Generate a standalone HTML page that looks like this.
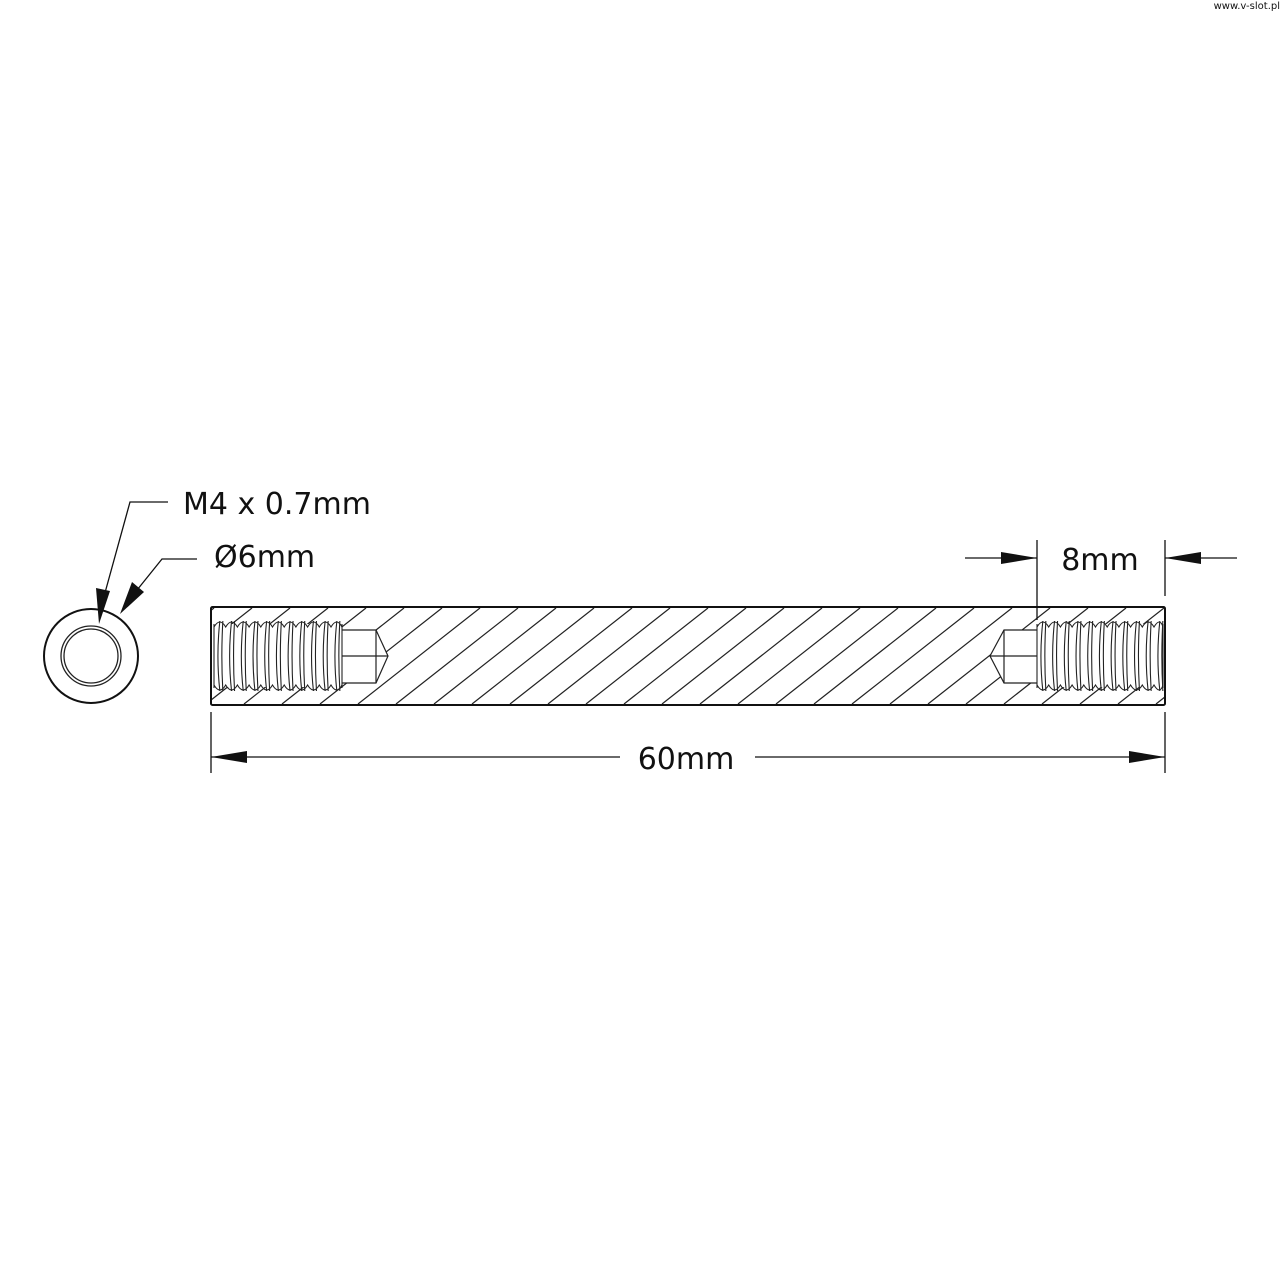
<!DOCTYPE html>
<html><head><meta charset="utf-8"><style>
html,body{margin:0;padding:0;background:#fff;}
svg{display:block;}
text{font-family:"DejaVu Sans","Liberation Sans",sans-serif;fill:#111;}
</style></head><body>
<svg id="s" width="1280" height="1280" viewBox="0 0 1280 1280" xmlns="http://www.w3.org/2000/svg">
<defs>
<mask id="m">
<rect x="211" y="607" width="954" height="98" fill="#fff"/>
<rect x="212" y="624" width="130" height="63" fill="#000"/>
<polygon points="342,630 376,630 388,656 376,683 342,683" fill="#000"/>
<rect x="1037" y="624" width="127" height="63" fill="#000"/>
<polygon points="1037,630 1004,630 990,656 1004,683 1037,683" fill="#000"/>
</mask>
</defs>
<text x="1280" y="9" font-size="10" text-anchor="end" fill="#333">www.v-slot.pl</text>
<g id="hatch" mask="url(#m)" stroke="#222" stroke-width="1.2"></g>
<rect x="211" y="607" width="954" height="98" fill="none" stroke="#111" stroke-width="2" rx="1.5"/>
<g id="thr" fill="none" stroke="#222" stroke-width="1.1"></g>
<g fill="none" stroke="#222" stroke-width="1.2">
<polyline points="342,630 376,630 388,656 376,683 342,683"/>
<line x1="376" y1="630" x2="376" y2="683"/>
<line x1="342" y1="656" x2="388" y2="656"/>
<polyline points="1037,630 1004,630 990,656 1004,683 1037,683"/>
<line x1="1004" y1="630" x2="1004" y2="683"/>
<line x1="1037" y1="656" x2="990" y2="656"/>
</g>
<circle cx="91" cy="656" r="47" fill="none" stroke="#111" stroke-width="2"/>
<circle cx="91" cy="656" r="30" fill="none" stroke="#222" stroke-width="1.3"/>
<circle cx="91" cy="656" r="27" fill="none" stroke="#222" stroke-width="1.3"/>
<g stroke="#111" stroke-width="1.3" fill="none">
<polyline points="168,502 130,502 103,600"/>
<polyline points="197,559 162,559 129,600"/>
</g>
<polygon points="99,624 96,588 110,591" fill="#111"/>
<polygon points="120,614 132,582 144,592" fill="#111"/>
<text x="183" y="514" font-size="30">M4 x 0.7mm</text>
<text x="214" y="567" font-size="30">Ø6mm</text>
<g stroke="#111" stroke-width="1.3">
<line x1="211" y1="712" x2="211" y2="773"/>
<line x1="1165" y1="712" x2="1165" y2="773"/>
<line x1="211" y1="757" x2="620" y2="757"/>
<line x1="755" y1="757" x2="1165" y2="757"/>
<line x1="1037" y1="540" x2="1037" y2="620"/>
<line x1="1165" y1="540" x2="1165" y2="596"/>
<line x1="965" y1="558" x2="1037" y2="558"/>
<line x1="1165" y1="558" x2="1237" y2="558"/>
</g>
<polygon points="211,757 247,751 247,763" fill="#111"/>
<polygon points="1165,757 1129,751 1129,763" fill="#111"/>
<polygon points="1037,558 1001,552 1001,564" fill="#111"/>
<polygon points="1165,558 1201,552 1201,564" fill="#111"/>
<text x="686" y="769" font-size="30" text-anchor="middle">60mm</text>
<text x="1100" y="570" font-size="30" text-anchor="middle">8mm</text>
</svg>
<script>
var ns="http://www.w3.org/2000/svg";
var h=document.getElementById('hatch');
for(var x=632-38*30;x<1300+130;x+=38){var l=document.createElementNS(ns,'line');
l.setAttribute('x1',x);l.setAttribute('y1',608);l.setAttribute('x2',x-122);l.setAttribute('y2',704);h.appendChild(l);}
var t=document.getElementById('thr');
function thread(x0,x1){var p=11.7,d1="M"+x0+" 627",d2="M"+x0+" 685";
for(var x=x0;x<x1-1;x+=p){var e=Math.min(x+p,x1);d1+=" Q"+(x+p/2)+" 617 "+e+" 627";d2+=" Q"+(x+p/2)+" 695 "+e+" 685";
var a=document.createElementNS(ns,'path');a.setAttribute('d',"M"+(x+p/2)+" 621 Q"+(x+2)+" 656 "+(x+p/2)+" 691");t.appendChild(a);
var b=document.createElementNS(ns,'path');b.setAttribute('d',"M"+(x+p/2+3)+" 621 Q"+(x+p/2+1)+" 656 "+(x+p/2+3)+" 691");t.appendChild(b);}
var q=document.createElementNS(ns,'path');q.setAttribute('d',d1);t.appendChild(q);
q=document.createElementNS(ns,'path');q.setAttribute('d',d2);t.appendChild(q);
var v=document.createElementNS(ns,'line');v.setAttribute('x1',x0);v.setAttribute('x2',x0);v.setAttribute('y1',624);v.setAttribute('y2',688);t.appendChild(v);
v=document.createElementNS(ns,'line');v.setAttribute('x1',x1);v.setAttribute('x2',x1);v.setAttribute('y1',624);v.setAttribute('y2',688);t.appendChild(v);}
thread(214,342);thread(1037,1163);
</script>
</body></html>
